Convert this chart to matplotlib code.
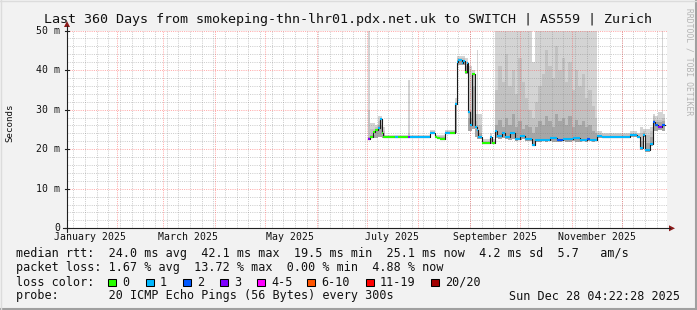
import matplotlib
matplotlib.use('Agg')
import matplotlib.pyplot as plt
import matplotlib.dates as mdates
from matplotlib.transforms import Affine2D, blended_transform_factory
from matplotlib.lines import Line2D
from matplotlib.patches import Rectangle, Polygon
import numpy as np
import pandas as pd

# ---- values (rtt in ms) ----
t_start = '2025-01-02 04:22:28'
t_end = '2025-12-28 04:22:28'
data_end = '2025-12-27'

# median rtt steps: step start, median (ms), lost pings out of 20
med_dates = ['2025-07-02', '2025-07-03', '2025-07-05', '2025-07-06', '2025-07-08',
             '2025-07-09', '2025-07-10', '2025-07-11', '2025-07-18', '2025-07-20',
             '2025-07-26', '2025-07-27', '2025-08-08', '2025-08-11', '2025-08-12',
             '2025-08-14', '2025-08-17', '2025-08-20', '2025-08-23', '2025-08-24',
             '2025-08-25', '2025-08-27', '2025-08-28', '2025-08-29', '2025-08-30',
             '2025-08-31', '2025-09-01', '2025-09-02', '2025-09-04', '2025-09-05',
             '2025-09-06', '2025-09-08', '2025-09-13', '2025-09-14', '2025-09-16',
             '2025-09-17', '2025-09-20', '2025-09-22', '2025-09-25', '2025-09-28',
             '2025-10-01', '2025-10-04', '2025-10-08', '2025-10-10', '2025-10-19',
             '2025-10-23', '2025-10-27', '2025-11-02', '2025-11-06', '2025-11-10',
             '2025-11-12', '2025-11-16', '2025-11-19', '2025-12-06', '2025-12-10',
             '2025-12-12', '2025-12-14', '2025-12-15', '2025-12-18', '2025-12-20',
             '2025-12-21', '2025-12-23', '2025-12-25']
med_ms = [22.6, 23.0, 24.3, 24.9, 25.4,
          27.6, 24.2, 23.0, 23.0, 23.0,
          23.2, 23.0, 24.1, 23.0, 22.7,
          22.5, 24.1, 24.1, 31.3, 42.0,
          42.5, 41.7, 42.3, 39.5, 41.7,
          29.4, 26.0, 39.0, 25.6, 24.8,
          23.1, 21.5, 23.2, 21.5, 24.6,
          23.3, 24.0, 23.0, 24.0, 22.6,
          23.3, 22.6, 21.1, 22.4, 22.8,
          22.4, 22.6, 22.9, 22.4, 22.6,
          22.4, 23.3, 23.1, 23.6, 23.1,
          20.3, 23.6, 19.7, 21.3, 26.8,
          26.0, 25.5, 26.2]
med_loss = [3, 0, 0, 0, 1,
            1, 0, 0, 1, 0,
            3, 1, 1, 0, 0,
            0, 1, 0, 1, 1,
            1, 1, 1, 0, 1,
            1, 1, 0, 1, 1,
            1, 0, 1, 0, 1,
            1, 1, 1, 1, 1,
            1, 1, 1, 1, 1,
            2, 1, 1, 1, 2,
            1, 1, 1, 1, 1,
            1, 1, 1, 1, 2,
            2, 3, 2]

# smoke: step start, lowest ping, inner band, middle band, highest ping (ms)
smoke_dates = ['2025-07-02', '2025-07-03', '2025-07-06', '2025-07-08', '2025-07-10',
               '2025-07-12', '2025-07-26', '2025-07-27', '2025-08-08', '2025-08-11',
               '2025-08-17', '2025-08-23', '2025-08-24', '2025-08-29', '2025-08-31',
               '2025-09-02', '2025-09-04', '2025-09-05', '2025-09-06', '2025-09-08',
               '2025-09-13', '2025-09-14', '2025-09-16', '2025-09-18', '2025-09-20',
               '2025-09-22', '2025-09-24', '2025-09-26', '2025-09-28', '2025-09-30',
               '2025-10-02', '2025-10-04', '2025-10-06', '2025-10-08', '2025-10-10',
               '2025-10-12', '2025-10-14', '2025-10-16', '2025-10-18', '2025-10-20',
               '2025-10-22', '2025-10-24', '2025-10-26', '2025-10-28', '2025-10-30',
               '2025-11-01', '2025-11-03', '2025-11-05', '2025-11-07', '2025-11-09',
               '2025-11-11', '2025-11-13', '2025-11-15', '2025-11-16', '2025-11-19',
               '2025-12-06', '2025-12-10', '2025-12-12', '2025-12-14', '2025-12-15',
               '2025-12-18', '2025-12-20', '2025-12-21', '2025-12-23', '2025-12-25',
               '2025-12-26']
smoke_lo = [22.3, 22.7, 22.7, 23.0, 22.8,
            22.8, 22.8, 22.8, 23.8, 22.7,
            23.8, 24.0, 41.3, 39.0, 24.5,
            25.0, 23.0, 22.5, 22.5, 21.2,
            21.2, 21.2, 22.8, 22.5, 22.8,
            22.5, 22.3, 22.5, 22.0, 22.3,
            22.5, 22.0, 22.0, 20.8, 21.8,
            21.8, 22.0, 21.8, 22.0, 21.8,
            21.8, 21.8, 22.0, 21.8, 21.8,
            22.0, 21.8, 21.8, 22.0, 21.8,
            22.0, 21.8, 22.0, 22.9, 22.8,
            23.2, 22.8, 19.8, 23.0, 19.3,
            20.8, 24.5, 24.5, 24.8, 24.5,
            24.5]
smoke_dark = [23.0, 23.5, 24.5, 26.0, 23.5,
              23.1, 23.3, 23.1, 24.3, 23.1,
              24.3, 31.5, 42.5, 41.0, 28.0,
              36.0, 25.0, 26.0, 24.0, 21.8,
              22.5, 21.8, 26.0, 27.5, 25.5,
              28.0, 26.0, 29.0, 25.5, 27.0,
              25.0, 26.0, 25.5, 24.0, 25.5,
              27.0, 26.0, 28.5, 27.0, 25.5,
              29.0, 27.0, 28.0, 26.0, 28.5,
              25.5, 27.5, 26.0, 27.0, 25.5,
              26.0, 24.5, 24.0, 23.6, 23.4,
              23.9, 23.4, 22.0, 24.0, 21.5,
              23.0, 27.5, 26.8, 26.8, 27.0,
              27.0]
smoke_mid = [30.0, 25.0, 25.5, 27.0, 24.5,
             23.3, 24.0, 23.3, 24.5, 23.3,
             24.5, 32.0, 43.0, 42.0, 30.0,
             39.0, 27.0, 29.0, 26.0, 22.0,
             23.3, 22.0, 35.0, 41.0, 37.0,
             44.0, 36.0, 40.0, 34.0, 43.0,
             37.0, 33.0, 30.0, 28.0, 32.0,
             36.0, 39.0, 45.0, 41.0, 38.0,
             46.0, 40.0, 43.0, 37.0, 42.0,
             35.0, 40.0, 36.0, 39.0, 33.0,
             35.0, 31.0, 28.0, 24.1, 23.8,
             24.2, 23.8, 24.0, 24.5, 23.5,
             24.5, 28.5, 27.5, 27.5, 28.0,
             28.0]
smoke_max = [50.0, 26.5, 26.0, 28.5, 25.5,
             23.6, 37.6, 23.6, 24.8, 23.6,
             24.8, 33.0, 43.5, 43.0, 41.0,
             40.0, 29.0, 45.0, 29.0, 22.5,
             24.0, 22.5, 50.0, 50.0, 50.0,
             50.0, 50.0, 50.0, 50.0, 50.0,
             50.0, 50.0, 50.0, 42.0, 50.0,
             50.0, 50.0, 50.0, 50.0, 50.0,
             50.0, 50.0, 50.0, 50.0, 50.0,
             50.0, 50.0, 50.0, 50.0, 50.0,
             50.0, 50.0, 50.0, 24.7, 24.2,
             24.6, 24.2, 25.5, 25.0, 25.0,
             25.5, 29.0, 28.5, 29.5, 50.0,
             29.0]

loss_labels = ['0', '1', '2', '3', '4-5', '6-10', '11-19', '20/20']
loss_colors = ['#26ff00', '#00b8ff', '#0059ff', '#7e00ff', '#ff00ff', '#ff5500', '#ff0000', '#a10000']
loss_upper = [0, 1, 2, 3, 5, 10, 19, 20]

y_ticks = [0, 10, 20, 30, 40, 50]
y_tick_labels = ['0', '10 m', '20 m', '30 m', '40 m', '50 m']
x_label_dates = ['2025-01-16', '2025-03-16', '2025-05-16', '2025-07-16', '2025-09-16', '2025-11-16']
x_label_text = ['January 2025', 'March 2025', 'May 2025', 'July 2025', 'September 2025', 'November 2025']

title = 'Last 360 Days from smokeping-thn-lhr01.pdx.net.uk to SWITCH | AS559 | Zurich'
rtt_stats = ['24.0', '42.1', '19.5', '25.1', '4.2', '5.7']
loss_stats = ['1.67', '13.72', '0.00', '4.88']
probe_text = '20 ICMP Echo Pings (56 Bytes) every 300s'
stamp = 'Sun Dec 28 04:22:28 2025'


def loss_color(n):
    for up, col in zip(loss_upper, loss_colors):
        if n <= up:
            return col
    return loss_colors[-1]


# ---- figure in pixel units ----
W, H = 697, 310
fig = plt.figure(figsize=(W / 100, H / 100), dpi=100)
fig.patch.set_facecolor('#f2f2f2')
px = Affine2D().scale(1.0 / W, -1.0 / H).translate(0, 1) + fig.transFigure
mono = 'DejaVu Sans Mono'

x0, x1 = 67, 667
y_top, y_bot = 30.5, 228.3
ax = fig.add_axes([x0 / W, 1 - y_bot / H, (x1 - x0) / W, (y_bot - y_top) / H])
ax.set_facecolor('white')
for s in ax.spines.values():
    s.set_visible(False)
ax.set_xticks([])
ax.set_yticks([])

ts = mdates.date2num(pd.Timestamp(t_start))
te = mdates.date2num(pd.Timestamp(t_end))
ax.set_xlim(ts, te)
ax.set_ylim(0, 50)

# smoke
sx = mdates.date2num(pd.to_datetime(smoke_dates))
sx = np.append(sx, mdates.date2num(pd.Timestamp(data_end)))
def ext(a):
    return np.append(a, a[-1])
ax.fill_between(sx, ext(smoke_lo), ext(smoke_max), step='post', color='#d4d4d4', lw=0, zorder=1)
ax.fill_between(sx, ext(smoke_lo), ext(smoke_mid), step='post', color='#c2c2c2', lw=0, zorder=2)
ax.fill_between(sx, ext(smoke_lo), ext(smoke_dark), step='post', color='#a6a6a6', lw=0, zorder=3)

# grid, dotted
minor = dict(color=(0.5, 0.5, 0.5, 0.4), lw=0.72, dashes=(1, 1.2), snap=True, zorder=4)
major = dict(color=(1.0, 0.25, 0.25, 0.45), lw=0.72, dashes=(1, 1.2), snap=True, zorder=4)
for v in range(2, 51, 2):
    ax.axhline(v, **(major if v % 10 == 0 else minor))
for d in pd.date_range('2025-01-06', t_end, freq='7D'):
    ax.axvline(mdates.date2num(d), **minor)
for d in pd.date_range('2025-02-01', t_end, freq='MS'):
    ax.axvline(mdates.date2num(d), **major)

# median line
mx = mdates.date2num(pd.to_datetime(med_dates))
mx = np.append(mx, mdates.date2num(pd.Timestamp(data_end)))
ax.step(mx, ext(med_ms), where='post', color='#1a1a1a', lw=0.8, zorder=6)
ax.hlines(med_ms, mx[:-1], mx[1:], colors=[loss_color(n) for n in med_loss], lw=1.5, zorder=7)

# axes lines and arrows
ax_col = '#202020'
arrow_col = '#8b1a1a'
fig.add_artist(Line2D([x0, x0], [232, 26], transform=px, color=ax_col, lw=0.8))
fig.add_artist(Line2D([63, 670], [y_bot, y_bot], transform=px, color=ax_col, lw=0.8))
fig.add_artist(Polygon([[x0 - 3, 27], [x0 + 3, 27], [x0, 21]], closed=True, transform=px,
                       color=arrow_col, lw=0))
fig.add_artist(Polygon([[669, y_bot - 3], [669, y_bot + 3], [675, y_bot]], closed=True, transform=px,
                       color=arrow_col, lw=0))
for v, lab in zip(y_ticks, y_tick_labels):
    yp = y_bot - v * (y_bot - y_top) / 50
    fig.add_artist(Line2D([x0 - 2, x0 + 2], [yp, yp], transform=px, color=ax_col, lw=0.8))
    fig.text(60, yp, lab, transform=px, ha='right', va='center',
             family=mono, fontsize=7.1, color='#111111')

xt = blended_transform_factory(ax.transData, px)
for d, lab in zip(x_label_dates, x_label_text):
    ax.text(mdates.date2num(pd.Timestamp(d)), 237.5, lab, transform=xt, ha='center', va='center',
            family=mono, fontsize=7.1, color='#111111', clip_on=False)

# texts
fig.text(348.5, 19.5, title, transform=px, ha='center', va='center', family=mono,
         fontsize=9.6, color='#111111')
fig.text(10, 123, 'Seconds', transform=px, ha='center', va='center', rotation=90,
         family=mono, fontsize=6.6, color='#111111')
fig.text(689, 8, 'RRDTOOL / TOBI OETIKER', transform=px, ha='center', va='top', rotation=-90,
         family=mono, fontsize=5.8, color='#b4b4b4')

leg = dict(transform=px, ha='left', va='center', family=mono, fontsize=8.5, color='#111111')
fig.text(16, 254, 'median rtt:  %s ms avg  %s ms max  %s ms min  %s ms now  %s ms sd  %s   am/s'
         % tuple(rtt_stats), **leg)
fig.text(16, 268, 'packet loss: %s %% avg  %s %% max  %s %% min  %s %% now' % tuple(loss_stats), **leg)
fig.text(16, 282, 'loss color:', **leg)
box_x = [108, 146, 183, 220, 257, 307, 366, 431]
for bx, lab, col in zip(box_x, loss_labels, loss_colors):
    fig.add_artist(Rectangle((bx, 278.5), 7.5, 7.5, transform=px, facecolor=col,
                             edgecolor='black', lw=0.75))
    fig.text(bx + 14, 282, lab, **leg)
fig.text(16, 296, 'probe:       ' + probe_text, **leg)
fig.text(680, 296, stamp, transform=px, ha='right', va='center', family=mono, fontsize=8.5,
         color='#111111')

# frame shading
fig.add_artist(Line2D([0, W], [309, 309], transform=px, color='#a0a0a0', lw=1.5))
fig.add_artist(Line2D([696, 696], [0, H], transform=px, color='#a0a0a0', lw=1.5))
fig.add_artist(Line2D([0, W], [0.5, 0.5], transform=px, color='#dcdcdc', lw=1))
fig.add_artist(Line2D([0.5, 0.5], [0, H], transform=px, color='#dcdcdc', lw=1))

fig.savefig('out.png', dpi=100, facecolor=fig.get_facecolor())
